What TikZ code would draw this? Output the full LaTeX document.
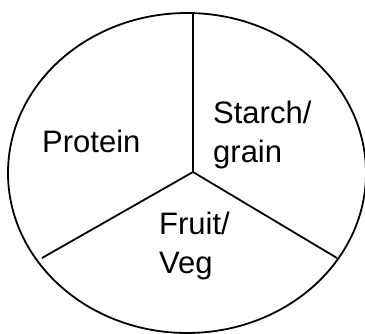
\documentclass[tikz,border=0pt]{standalone}
\usepackage{fontspec}
\setmainfont{Liberation Sans}
\usetikzlibrary{positioning}

\begin{document}
\begin{tikzpicture}[
  x=1pt, y=-1pt,
  food/.style={inner sep=0pt, align=left, font=\fontsize{31}{39}\selectfont},
  spoke/.style={line width=1.8pt, black}
]
  \useasboundingbox (0,0) rectangle (365,333);
  \draw[spoke] (187,173) ellipse [x radius=179, y radius=160];

  \coordinate (hub)   at (193,172);
  \coordinate (top)   at (193,13);
  \coordinate (left)  at (42,258);
  \coordinate (right) at (337,258);

  \draw[spoke] (hub) -- (top);
  \draw[spoke] (hub) -- (left);
  \draw[spoke] (hub) -- (right);

  % last line baselines
  \node[food, anchor=base west] (protein) at (42,152)  {Protein};
  \node[food, anchor=base west] (starch)  at (213,162) {Starch/\\grain};
  \node[food, anchor=base west] (fruit)   at (159,273) {Fruit/\\Veg};
\end{tikzpicture}
\end{document}
